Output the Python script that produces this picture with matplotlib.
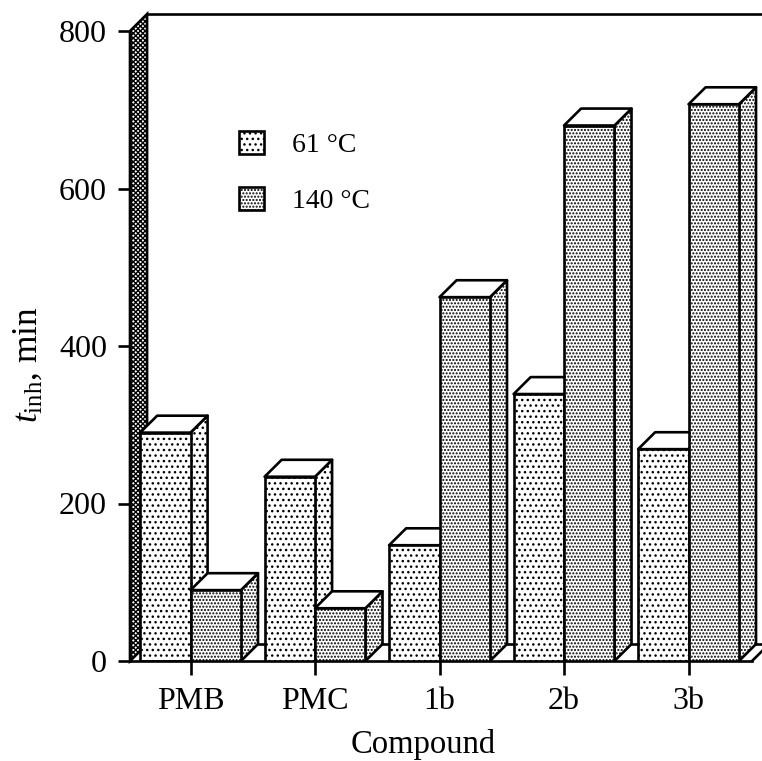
import numpy as np
from matplotlib import pyplot as plt
from matplotlib.patches import Polygon

plt.rcParams['font.family'] = ['Liberation Serif', 'DejaVu Serif']
plt.rcParams['mathtext.fontset'] = 'custom'
plt.rcParams['mathtext.rm'] = 'Liberation Serif'
plt.rcParams['mathtext.it'] = 'Liberation Serif:italic'
plt.rcParams['hatch.linewidth'] = 1.0

compounds = ['PMB', 'PMC', '1b', '2b', '3b']
t_61 = [290, 234, 147, 339, 269]
t_140 = [90, 67, 462, 680, 707]

W, H = 762, 761
fig = plt.figure(figsize=(W/100, H/100), dpi=100)
ax = fig.add_axes([130/W, (H-661)/H, (W-130)/W, 630/H])
ax.set_ylim(0, 800)
ax.set_xlim(-0.486, 4.59)
ax.patch.set_visible(False)

LW = 1.9
bw = 0.405
dx = 0.137   # depth of the fake 3d, x data units
dy = 21.5    # same, y data units
x = np.arange(len(compounds))

# back wall
wall_top = 800 + dy
ax.add_patch(Polygon([(-0.486, 0), (-0.486+dx, dy), (-0.486+dx, wall_top), (-0.486, 800)],
                     fc='white', ec='black', lw=LW, hatch='xxxxxxx', zorder=1, clip_on=False))
ax.plot([-0.486+dx, 4.7], [wall_top, wall_top], color='black', lw=LW, zorder=1, clip_on=False)
# floor
ax.plot([-0.486+dx, 4.7], [dy, dy], color='black', lw=LW, zorder=1, clip_on=False)
ax.plot([4.51, 4.51+dx], [0, dy], color='black', lw=LW, zorder=1, clip_on=False)


def bar3d(xpos, val, hatch, side_hatch, z, label=None):
    ax.add_patch(Polygon([(xpos+bw, 0), (xpos+bw+dx, dy), (xpos+bw+dx, val+dy), (xpos+bw, val)],
                         fc='white', ec='black', lw=LW, hatch=side_hatch, zorder=z, joinstyle='round'))
    ax.add_patch(Polygon([(xpos, val), (xpos+dx, val+dy), (xpos+bw+dx, val+dy), (xpos+bw, val)],
                         fc='white', ec='black', lw=LW, zorder=z, joinstyle='round'))
    return ax.bar(xpos, val, bw, align='edge', color='white', edgecolor='black', linewidth=LW,
                  hatch=hatch, zorder=z+0.5, label=label)


for i in x:
    bar3d(i-bw, t_61[i], '...', '...', 2+2*i, label='61 °C' if i == 0 else None)
    bar3d(i, t_140[i], '.....', '.....', 3+2*i, label='140 °C' if i == 0 else None)

ax.set_xticks(x)
ax.set_xticklabels(compounds)
ax.set_yticks([0, 200, 400, 600, 800])
ax.tick_params(axis='y', length=8.6, width=LW, labelsize=23, pad=8)
ax.tick_params(axis='x', length=10, width=LW, labelsize=23, pad=9)
for s in ['top', 'right']:
    ax.spines[s].set_visible(False)
ax.spines['left'].set_linewidth(LW)
ax.spines['bottom'].set_linewidth(LW)
ax.spines['bottom'].set_bounds(-0.486, 4.51)

ax.set_xlabel('Compound', fontsize=23.5, x=0.4636, labelpad=9)
ax.set_ylabel(r'$t_{\mathrm{inh}}$, min', fontsize=25.5, y=0.471, labelpad=10)

ax.legend(loc='upper left', bbox_to_anchor=(0.173, 0.842), frameon=False, fontsize=20,
          handlelength=0.9, handleheight=0.9, handletextpad=1.0, labelspacing=1.05,
          borderpad=0, borderaxespad=0)

fig.savefig('out.png', dpi=100)
